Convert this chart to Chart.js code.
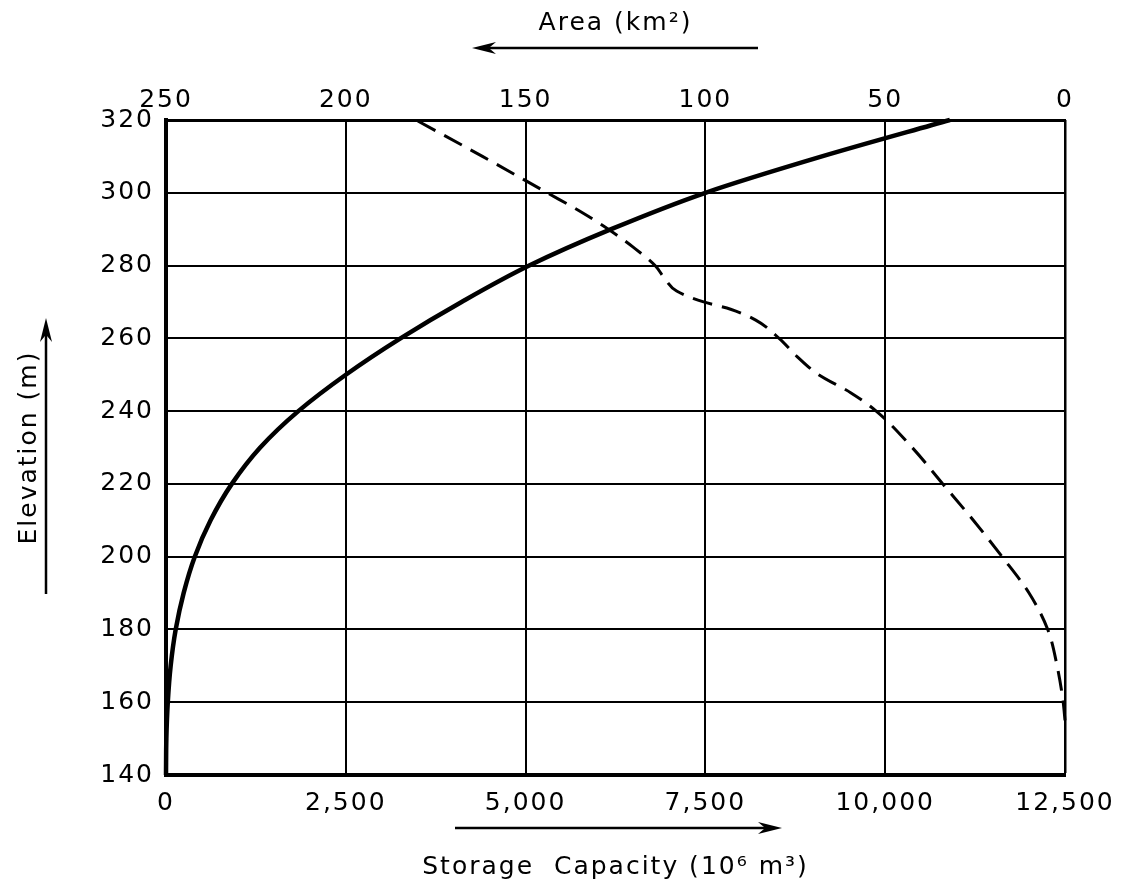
<!DOCTYPE html>
<html>
<head>
<meta charset="utf-8">
<script src="https://cdn.jsdelivr.net/npm/chart.js@4.4.1/dist/chart.umd.min.js"></script>
<style>
  html, body { margin: 0; padding: 0; background: #fff; }
  #wrap { width: 1122px; height: 896px; }
</style>
</head>
<body>
<div id="wrap"><canvas id="chart" width="1122" height="896"></canvas></div>
<script>
// storage capacity curve (solid)
const storageElevation = [140, 150, 160, 170, 180, 190, 200, 210, 220, 230, 240, 250, 260, 270, 280, 290, 300, 310, 320];
const storageValues    = [0, 5, 25, 65, 135, 245, 400, 620, 915, 1310, 1840, 2500, 3260, 4110, 5050, 6190, 7500, 9120, 10900];

// area curve (dashed) (reversed)
const areaElevation = [155, 160, 170, 180, 190, 200, 210, 220, 230, 240, 245, 250, 255, 260, 265, 268, 270, 273, 276, 280, 285, 290, 295, 300, 310, 320];
const areaValues    = [0, 0.5, 2.2, 4.8, 10, 17.5, 25.5, 34, 42.5, 52.5, 59.5, 68.5, 74.5, 79.5, 86, 93, 100.5, 108, 111, 114, 120, 127, 135, 144, 162, 180.5];

const storageTicks = [0, 2500, 5000, 7500, 10000, 12500];
const areaTicks = [250, 200, 150, 100, 50, 0];
const elevationTicks = [140, 160, 180, 200, 220, 240, 260, 280, 300, 320];

Chart.defaults.font.family = '"DejaVu Sans", sans-serif';
Chart.defaults.font.size = 25;
Chart.defaults.color = '#000';

function drawArrow(ctx, x1, y1, x2, y2) {
  const ang = Math.atan2(y2 - y1, x2 - x1);
  const len = 24, half = 6;
  ctx.beginPath();
  ctx.moveTo(x1, y1);
  ctx.lineTo(x2 - Math.cos(ang) * len * 0.6, y2 - Math.sin(ang) * len * 0.6);
  ctx.stroke();
  ctx.beginPath();
  ctx.moveTo(x2, y2);
  ctx.lineTo(x2 - Math.cos(ang) * len - Math.sin(ang) * half, y2 - Math.sin(ang) * len + Math.cos(ang) * half);
  ctx.lineTo(x2 - Math.cos(ang) * len * 0.7, y2 - Math.sin(ang) * len * 0.7);
  ctx.lineTo(x2 - Math.cos(ang) * len + Math.sin(ang) * half, y2 - Math.sin(ang) * len - Math.cos(ang) * half);
  ctx.closePath();
  ctx.fill();
}

const arrowPlugin = {
  id: 'axisArrows',
  beforeDraw(chart) {
    chart.ctx.letterSpacing = '2px';
  },
  afterDraw(chart) {
    const ctx = chart.ctx;
    ctx.save();
    ctx.strokeStyle = '#000';
    ctx.fillStyle = '#000';
    ctx.lineWidth = 2.5;
    drawArrow(ctx, 758, 48, 472, 48);   // area, pointing left
    drawArrow(ctx, 455, 828, 782, 828); // storage, pointing right
    drawArrow(ctx, 46, 594, 46, 318);   // elevation, pointing up
    ctx.restore();
  }
};

const storageData = storageValues.map((v, i) => ({ x: v, y: storageElevation[i] }));
const areaData = areaValues.map((v, i) => ({ x: v, y: areaElevation[i] }));

new Chart(document.getElementById('chart'), {
  type: 'line',
  data: {
    datasets: [
      {
        label: 'Storage Capacity',
        data: storageData,
        xAxisID: 'x',
        yAxisID: 'y',
        borderColor: '#000',
        borderWidth: 4.5,
        pointRadius: 0,
        cubicInterpolationMode: 'monotone',
        clip: false
      },
      {
        label: 'Area',
        data: areaData,
        xAxisID: 'x2',
        yAxisID: 'y',
        borderColor: '#000',
        borderWidth: 3,
        borderDash: [20, 10],
        pointRadius: 0,
        cubicInterpolationMode: 'monotone',
        clip: false
      }
    ]
  },
  options: {
    responsive: false,
    animation: false,
    indexAxis: 'y',
    locale: 'en-US',
    layout: { padding: { left: 0, right: 57, top: 0, bottom: 0 } },
    plugins: {
      legend: { display: false },
      tooltip: { enabled: false }
    },
    scales: {
      x: {
        type: 'linear',
        position: 'bottom',
        min: 0,
        max: 12500,
        afterBuildTicks: s => { s.ticks = storageTicks.map(v => ({ value: v })); },
        afterFit: s => { s.height = 121; },
        ticks: { padding: 13 },
        grid: {
          color: '#000',
          lineWidth: c => (c.tick && c.tick.value === 12500 ? 2.5 : 2),
          drawTicks: false
        },
        border: { color: '#000', width: 4 },
        title: {
          display: true,
          text: 'Storage  Capacity (10⁶ m³)',
          padding: { top: 0, bottom: 14 }
        }
      },
      x2: {
        type: 'linear',
        position: 'top',
        reverse: true,
        min: 0,
        max: 250,
        afterBuildTicks: s => { s.ticks = areaTicks.map(v => ({ value: v })); },
        afterFit: s => { s.height = 120; },
        ticks: { padding: 5 },
        grid: { display: false, drawTicks: false },
        border: { color: '#000', width: 3 },
        title: {
          display: true,
          text: 'Area (km²)',
          padding: { top: 8, bottom: 0 }
        }
      },
      y: {
        type: 'linear',
        position: 'left',
        min: 140,
        max: 320,
        afterBuildTicks: s => { s.ticks = elevationTicks.map(v => ({ value: v })); },
        afterFit: s => { s.width = 166; },
        ticks: { padding: 12 },
        grid: { color: '#000', lineWidth: 2, drawTicks: false },
        border: { color: '#000', width: 4 },
        title: {
          display: true,
          text: 'Elevation (m)',
          padding: { top: 14, bottom: 0 }
        }
      }
    }
  },
  plugins: [arrowPlugin]
});
</script>
</body>
</html>
